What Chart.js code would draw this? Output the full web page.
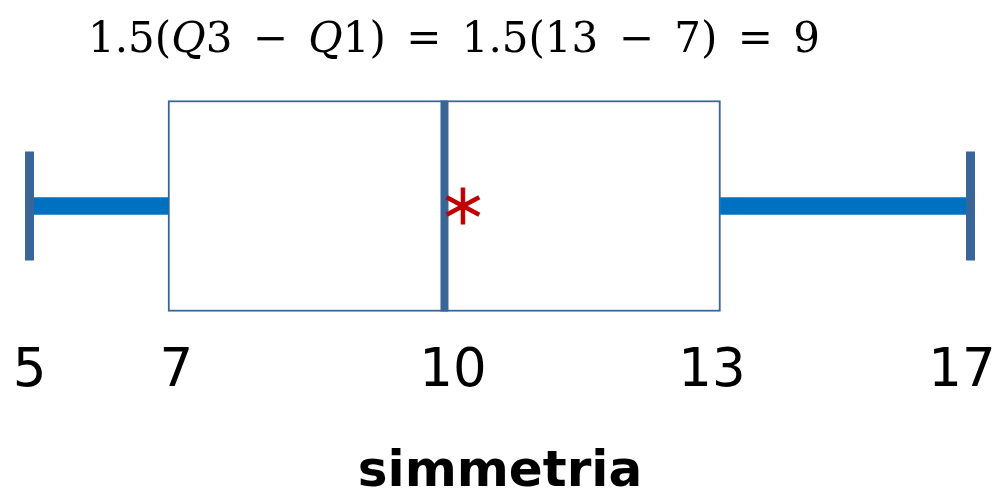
<!DOCTYPE html>
<html lang="it">
<head>
<meta charset="utf-8">
<title>simmetria</title>
<script src="https://cdn.jsdelivr.net/npm/chart.js@4.4.1/dist/chart.umd.min.js"></script>
<style>
    html, body { margin: 0; padding: 0; background: #fff; }
    #wrap { position: relative; width: 994px; height: 496px; overflow: hidden; }
    #grafico { position: absolute; left: 0; top: 0; }
    #formula {
        position: absolute; left: 88px; top: 17px;
        font: 42px "DejaVu Serif", serif; line-height: 1;
        word-spacing: 7px; white-space: nowrap; color: #000;
    }
</style>
</head>
<body>
<div id="wrap">
    <canvas id="grafico" width="994" height="496"></canvas>
    <div id="formula">1.5(<i>Q</i>3 − <i>Q</i>1) = 1.5(13 − 7) = 9</div>
</div>
<script>
// =====================
// DATI
// =====================
const categorie = ["dati"];
const minimo = [5];
const q1 = [7];
const mediana = [10];
const q3 = [13];
const massimo = [17];
const media = [10.2];
const tickValori = [5, 7, 10, 13, 17];

const BLU = "#3A6598";
const BAFFI = "#0070C0";
const ROSSO = "#C00000";

// =====================
// SCALA A TRATTI — il disegno non è in scala, ogni tratto ha la sua larghezza
// =====================
class ScalaTratti extends Chart.LinearScale {
    getPixelForValue(v) {
        const { valori, quote } = this.options.tratti;
        const w = this.right - this.left;
        let i = 0;
        while (i < valori.length - 2 && v > valori[i + 1]) i++;
        const t = (v - valori[i]) / (valori[i + 1] - valori[i]);
        return this.left + w * (quote[i] + t * (quote[i + 1] - quote[i]));
    }
    getValueForPixel(p) {
        const { valori, quote } = this.options.tratti;
        const f = (p - this.left) / (this.right - this.left);
        let i = 0;
        while (i < quote.length - 2 && f > quote[i + 1]) i++;
        const t = (f - quote[i]) / (quote[i + 1] - quote[i]);
        return valori[i] + t * (valori[i + 1] - valori[i]);
    }
}
ScalaTratti.id = "tratti";
ScalaTratti.defaults = Chart.LinearScale.defaults;
Chart.register(ScalaTratti);

// asterisco rosso a sei bracci per la media
function asterisco() {
    let c = document.createElement("canvas");
    c.width = 44; c.height = 44;
    let g = c.getContext("2d");
    g.strokeStyle = ROSSO;
    g.lineWidth = 4.5;
    g.translate(22, 22);
    [90, 28, 152].forEach(a => {
        let r = a * Math.PI / 180;
        g.beginPath();
        g.moveTo(Math.cos(r) * 18.5, Math.sin(r) * 18.5);
        g.lineTo(-Math.cos(r) * 18.5, -Math.sin(r) * 18.5);
        g.stroke();
    });
    return c;
}

// piccolo spazio per centrare le etichette come nel disegno
const spazio = ["", " ", " ", "", ""];
const spazioDopo = ["", "", "", " ", " "];

// =====================
// GRAFICO
// =====================
new Chart(document.getElementById("grafico"), {
    type: "bar",
    data: {
        labels: categorie,
        datasets: [
            {
                type: "scatter",
                data: media.map((v, i) => ({ x: v, y: categorie[i] })),
                pointStyle: asterisco(),
                clip: false
            },
            {
                type: "scatter",
                data: mediana.map((v, i) => ({ x: v, y: categorie[i] })),
                pointStyle: "line",
                pointRotation: 90,
                pointRadius: 105.5,
                pointBorderWidth: 8,
                pointBorderColor: BLU,
                clip: false
            },
            {
                type: "scatter",
                data: [
                    { x: minimo[0], y: categorie[0] },
                    { x: massimo[0], y: categorie[0] }
                ],
                pointStyle: "line",
                pointRotation: 90,
                pointRadius: 54.5,
                pointBorderWidth: 9,
                pointBorderColor: BLU,
                clip: false
            },
            {
                data: minimo.map((v, i) => [v, q1[i]]),
                indexAxis: "y",
                grouped: false,
                barThickness: 17,
                backgroundColor: BAFFI,
                borderWidth: 0,
                clip: false
            },
            {
                data: q3.map((v, i) => [v, massimo[i]]),
                indexAxis: "y",
                grouped: false,
                barThickness: 17,
                backgroundColor: BAFFI,
                borderWidth: 0,
                clip: false
            },
            {
                data: q1.map((v, i) => [v, q3[i]]),
                indexAxis: "y",
                grouped: false,
                barThickness: 211,
                backgroundColor: "#fff",
                borderColor: BLU,
                borderWidth: 2,
                borderSkipped: false,
                clip: false
            }
        ]
    },
    options: {
        responsive: false,
        animation: false,
        events: [],
        layout: { autoPadding: false, padding: { top: 82, left: 29.5, right: 23.5, bottom: 0 } },
        plugins: {
            legend: { display: false },
            tooltip: { enabled: false }
        },
        scales: {
            x: {
                type: "tratti",
                position: "bottom",
                min: 5,
                max: 17,
                tratti: { valori: tickValori, quote: [0, 0.1472, 0.4410, 0.7343, 1] },
                afterBuildTicks: s => { s.ticks = tickValori.map(v => ({ value: v })); },
                afterFit: s => { s.height = 166; s.paddingLeft = 0; s.paddingRight = 0; },
                grid: { display: false, drawTicks: false },
                border: { display: false },
                ticks: {
                    autoSkip: false,
                    maxRotation: 0,
                    padding: 10,
                    color: "#000",
                    font: { family: "'DejaVu Sans'", size: 53 },
                    callback: (v, i) => spazio[i] + v + spazioDopo[i]
                },
                title: {
                    display: true,
                    text: "simmetria",
                    color: "#000",
                    font: { family: "'DejaVu Sans'", size: 50, weight: "bold", lineHeight: 0.9 },
                    padding: { top: 0, bottom: 0 }
                }
            },
            y: {
                type: "category",
                display: false
            }
        }
    }
});
</script>
</body>
</html>
